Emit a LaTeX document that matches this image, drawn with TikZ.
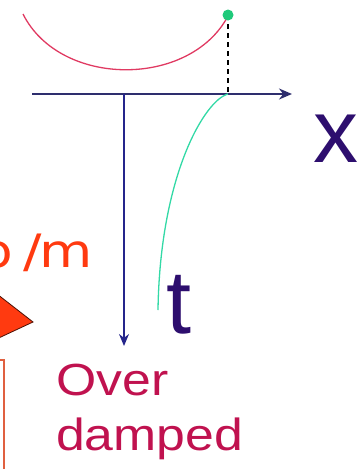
\documentclass[tikz,border=0pt]{standalone}
\usepackage{fontspec}
\setmainfont{Liberation Sans}
\newfontfamily\djv{DejaVu Sans}
\usetikzlibrary{arrows.meta}
\definecolor{axiscol}{HTML}{2E2E6E}
\definecolor{labcol}{HTML}{2D0E6E}
\definecolor{arccol}{HTML}{E03A62}
\definecolor{curvecol}{HTML}{33D9A6}
\definecolor{dotcol}{HTML}{1FC97A}
\definecolor{overcol}{HTML}{C0124F}
\definecolor{orcol}{HTML}{FF3A10}
\definecolor{boxcol}{HTML}{E06040}
\tikzset{
  axis/.style={draw=axiscol, line width=1.8pt, -{Stealth[length=13pt,width=11pt]}},
  vaxis/.style={draw=axiscol!80!blue, line width=1.3pt, -{Stealth[length=12pt,width=10pt]}},
  biglab/.style={text=labcol, inner sep=0pt, font=\fontsize{90}{90}\selectfont},
  dashline/.style={draw=black, line width=1.3pt, dash pattern=on 5pt off 4pt},
}
\begin{document}
\begin{tikzpicture}[x=1pt,y=-1pt]
\useasboundingbox (0,0) rectangle (363,469);
\clip (0,0) rectangle (363,469);
% red arc (potential)
\draw[arccol, line width=1.3pt] (23,14) .. controls (60,88) and (190,88) .. (228,16);
% dot and dashed projection
\coordinate (dotc) at (228,15);
\coordinate (xa0) at (32,94);
\coordinate (xa1) at (292,94);
\coordinate (proj) at (228,94);
\coordinate (ta0) at (124,94);
\coordinate (ta1) at (124,346);
\coordinate (cend) at (158,310);
\draw[dashline] (dotc) -- (proj);
\fill[dotcol] (dotc) circle (5.5pt);
% axes
\draw[axis] (xa0) -- (xa1);
\draw[vaxis] (ta0) -- (ta1);
% over damped trajectory
\draw[curvecol, line width=1.3pt] (proj) .. controls (205,100) and (160,175) .. (cend);
% labels
\node[biglab, anchor=base west] (xl) at (313,162) {x};
\node[biglab, anchor=base west] (tl) at (166,333) {t};
\node[text=orcol, inner sep=0pt, anchor=base east, font=\djv\fontsize{46}{46}\selectfont] (bm) at (93,267) {\scalebox{1.19}[1]{b\kern9pt/\kern-2.5pt m}};
\node[text=overcol, inner sep=0pt, anchor=base west, align=left, font=\fontsize{45}{55}\selectfont] (od) at (56,450) {\scalebox{1.15}[1]{Over}\\\scalebox{1.15}[1]{damped}};
% orange arrow head and box at left edge
\filldraw[fill=orcol, draw=black!70!orcol, line width=0.8pt] (-12,287) -- (33,322) -- (-12,343) -- cycle;
\draw[boxcol, line width=1.2pt] (-20,360) rectangle (4,490);
\end{tikzpicture}
\end{document}
